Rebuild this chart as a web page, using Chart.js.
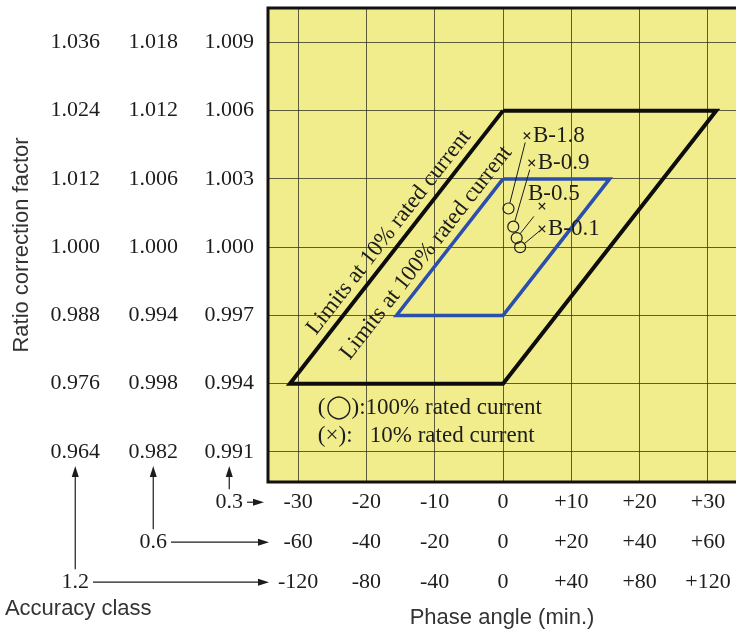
<!DOCTYPE html>
<html>
<head>
<meta charset="utf-8">
<script src="https://cdn.jsdelivr.net/npm/chart.js@4"></script>
<style>
  html, body { margin: 0; padding: 0; background: #fff; overflow: hidden; }
  #myChart { display: block; }
</style>
</head>
<body>
<canvas id="myChart" width="736" height="632"></canvas>
<script>
// phase angle gridlines, in minutes for class 0.3 (other classes are the same lines relabelled)
const phaseTicks = [-30, -20, -10, 0, 10, 20, 30];
const phaseLabels03 = ['-30', '-20', '-10', '0', '+10', '+20', '+30'];
const phaseLabels06 = ['-60', '-40', '-20', '0', '+20', '+40', '+60'];
const phaseLabels12 = ['-120', '-80', '-40', '0', '+40', '+80', '+120'];

// ratio correction factor gridlines, class 0.3 values
const rcfTicks = [0.991, 0.994, 0.997, 1.000, 1.003, 1.006, 1.009];
const rcfLabels03 = ['0.991', '0.994', '0.997', '1.000', '1.003', '1.006', '1.009'];
const rcfLabels06 = ['0.982', '0.998', '0.994', '1.000', '1.006', '1.012', '1.018'];
const rcfLabels12 = ['0.964', '0.976', '0.988', '1.000', '1.012', '1.024', '1.036'];

const accuracyClasses = ['0.3', '0.6', '1.2'];

// limit parallelograms (class 0.3)
const limit10Phase = [0, 31.2, 0, -31.2, 0];
const limit10Rcf = [1.006, 1.006, 0.994, 0.994, 1.006];
const limit100Phase = [0, 15.6, 0, -15.6, 0];
const limit100Rcf = [1.003, 1.003, 0.997, 0.997, 1.003];

// measured points per burden
const burdens = ['B-1.8', 'B-0.9', 'B-0.5', 'B-0.1'];
const phaseAt100 = [0.8, 1.5, 2.0, 2.5];
const rcfAt100 = [1.0017, 1.0009, 1.0004, 1.0000];
const phaseAt10 = [3.5, 4.2, 5.7, 5.7];
const rcfAt10 = [1.0049, 1.0037, 1.0018, 1.0008];

const serif = "'Liberation Serif', 'Times New Roman', serif";
const sans = "'Liberation Sans', Arial, sans-serif";
const ink = '#1c1c1c';

const pts = (xs, ys) => xs.map((x, i) => ({ x: x, y: ys[i] }));

function arrow(ctx, x1, y1, x2, y2) {
  const a = Math.atan2(y2 - y1, x2 - x1);
  ctx.beginPath();
  ctx.moveTo(x1, y1);
  ctx.lineTo(x2 - 6 * Math.cos(a), y2 - 6 * Math.sin(a));
  ctx.stroke();
  ctx.beginPath();
  ctx.moveTo(x2, y2);
  ctx.lineTo(x2 - 11 * Math.cos(a) + 3.5 * Math.sin(a), y2 - 11 * Math.sin(a) - 3.5 * Math.cos(a));
  ctx.lineTo(x2 - 11 * Math.cos(a) - 3.5 * Math.sin(a), y2 - 11 * Math.sin(a) + 3.5 * Math.cos(a));
  ctx.closePath();
  ctx.fill();
}

function edgeLabel(chart, text, p0, p1, normalOff, alongOff) {
  const ctx = chart.ctx, xs = chart.scales.x, ys = chart.scales.y;
  const x0 = xs.getPixelForValue(p0[0]), y0 = ys.getPixelForValue(p0[1]);
  const x1 = xs.getPixelForValue(p1[0]), y1 = ys.getPixelForValue(p1[1]);
  ctx.save();
  ctx.translate((x0 + x1) / 2, (y0 + y1) / 2);
  ctx.rotate(Math.atan2(y1 - y0, x1 - x0));
  ctx.font = '23px ' + serif;
  ctx.fillStyle = ink;
  ctx.textAlign = 'center';
  ctx.textBaseline = 'middle';
  ctx.fillText(text, alongOff, -normalOff);
  ctx.restore();
}

const decor = {
  id: 'decor',
  beforeDraw(chart) {
    const { ctx, chartArea: a } = chart;
    ctx.save();
    ctx.fillStyle = '#f2ed8c';
    ctx.fillRect(a.left, a.top, a.right - a.left, a.bottom - a.top);
    ctx.restore();
  },
  afterDatasetsDraw(chart) {
    const ctx = chart.ctx, xs = chart.scales.x, ys = chart.scales.y;
    ctx.save();
    // leader lines and burden labels
    const gap = { 'B-1.8': 7, 'B-0.9': 7, 'B-0.5': 13, 'B-0.1': 4 };
    const off = { 'B-1.8': [6, 0], 'B-0.9': [6, 0], 'B-0.5': [-14, -12], 'B-0.1': [6, 0] };
    ctx.strokeStyle = ink;
    ctx.lineWidth = 1;
    ctx.fillStyle = ink;
    ctx.font = '23px ' + serif;
    ctx.textBaseline = 'middle';
    burdens.forEach((b, i) => {
      const cx = xs.getPixelForValue(phaseAt10[i]), cy = ys.getPixelForValue(rcfAt10[i]);
      const ox = xs.getPixelForValue(phaseAt100[i]), oy = ys.getPixelForValue(rcfAt100[i]);
      const len = Math.hypot(ox - cx, oy - cy);
      const ux = (ox - cx) / len, uy = (oy - cy) / len;
      ctx.beginPath();
      ctx.moveTo(cx + ux * gap[b], cy + uy * gap[b]);
      ctx.lineTo(ox - ux * 5.5, oy - uy * 5.5);
      ctx.stroke();
      ctx.fillText(b, cx + off[b][0], cy + off[b][1]);
    });
    ctx.restore();

    edgeLabel(chart, 'Limits at 10% rated current',
      [limit10Phase[3], limit10Rcf[3]], [limit10Phase[0], limit10Rcf[0]], 15, 7);
    edgeLabel(chart, 'Limits at 100% rated current',
      [limit100Phase[3], limit100Rcf[3]], [limit100Phase[0], limit100Rcf[0]], 15, -19);

    // key inside the plot
    ctx.save();
    ctx.font = '23px ' + serif;
    ctx.fillStyle = ink;
    ctx.textBaseline = 'middle';
    const kx = xs.getPixelForValue(-27.1);
    ctx.fillText('(\u25EF):100% rated current', kx, ys.getPixelForValue(0.99294));
    ctx.fillText('(\u00D7):   10% rated current', kx, ys.getPixelForValue(0.99171));
    ctx.restore();
  },
  afterDraw(chart) {
    const { ctx, chartArea: a } = chart;
    ctx.save();
    // frame: the plot runs on past the right edge of the picture
    ctx.strokeStyle = '#111';
    ctx.lineWidth = 3;
    ctx.beginPath();
    ctx.moveTo(a.right + 5, a.top);
    ctx.lineTo(a.left, a.top);
    ctx.lineTo(a.left, a.bottom);
    ctx.lineTo(a.right + 5, a.bottom);
    ctx.stroke();

    // accuracy class pointers
    const yIds = ['y', 'y06', 'y12'], xIds = ['x', 'x06', 'x12'];
    const yLab = [rcfLabels03, rcfLabels06, rcfLabels12];
    ctx.font = '22px ' + serif;
    ctx.fillStyle = ink;
    ctx.strokeStyle = ink;
    ctx.lineWidth = 1.2;
    ctx.textAlign = 'center';
    ctx.textBaseline = 'middle';
    accuracyClasses.forEach((c, i) => {
      const ysc = chart.scales[yIds[i]], xsc = chart.scales[xIds[i]];
      const widest = Math.max(...yLab[i].map(t => ctx.measureText(t).width));
      const cx = ysc.right - ysc.options.ticks.padding - widest / 2;
      const cy = xsc.top + xsc.options.ticks.padding + 13.2;
      ctx.fillText(c, cx, cy);
      const w = ctx.measureText(c).width;
      arrow(ctx, cx, cy - 13, cx, a.bottom - 16);
      arrow(ctx, cx + w / 2 + 4, cy, a.left - (i === 0 ? 4 : -1), cy);
    });
    const c12 = chart.scales.y12;
    const w12 = Math.max(...rcfLabels12.map(t => ctx.measureText(t).width));
    ctx.font = '22px ' + sans;
    ctx.fillStyle = '#333';
    ctx.fillText('Accuracy class', c12.right - c12.options.ticks.padding - w12 / 2 + 3,
      chart.scales.x12.top + chart.scales.x12.options.ticks.padding + 13.2 + 27);
    ctx.restore();
  }
};

const tickFont = { family: serif, size: 22 };
const phaseMin = -34.4, phaseMax = 34.1;
const rcfMin = 0.98968, rcfMax = 1.01051;

function xAxis(labels, weight, height, extra) {
  return Object.assign({
    type: 'linear', position: 'bottom', weight: weight,
    min: phaseMin, max: phaseMax,
    afterBuildTicks: s => { s.ticks = phaseTicks.map(v => ({ value: v })); },
    afterFit: s => { s.height = height; s.paddingLeft = 0; s.paddingRight = 0; },
    ticks: { callback: (v, i) => labels[i], font: tickFont, color: ink, padding: 7, maxRotation: 0, autoSkip: false },
    grid: { display: false, drawTicks: false },
    border: { display: false }
  }, extra || {});
}

function yAxis(labels, weight, width, extra) {
  return Object.assign({
    type: 'linear', position: 'left', weight: weight,
    min: rcfMin, max: rcfMax,
    afterBuildTicks: s => { s.ticks = rcfTicks.map(v => ({ value: v })); },
    afterFit: s => { s.width = width; s.paddingTop = 0; s.paddingBottom = 0; },
    ticks: { callback: (v, i) => labels[i], font: tickFont, color: ink, padding: 14, crossAlign: 'center', autoSkip: false },
    grid: { display: false, drawTicks: false },
    border: { display: false }
  }, extra || {});
}

const gridStyle = { color: 'rgba(55,55,35,0.8)', lineWidth: 1, drawTicks: false };

const ctx = document.getElementById('myChart').getContext('2d');
const myChart = new Chart(ctx, {
  type: 'scatter',
  data: {
    datasets: [
      {
        label: '100% rated current',
        data: pts(phaseAt100, rcfAt100),
        pointStyle: 'circle', pointRadius: 5.5, borderColor: ink, borderWidth: 1.2,
        backgroundColor: 'rgba(0,0,0,0)'
      },
      {
        label: '10% rated current',
        data: pts(phaseAt10, rcfAt10),
        pointStyle: 'crossRot', pointRadius: 4.5, borderColor: ink, borderWidth: 1.2
      },
      {
        label: 'Limits at 100% rated current',
        data: pts(limit100Phase, limit100Rcf),
        showLine: true, pointRadius: 0, borderColor: '#2c4fae', borderWidth: 3.5, tension: 0
      },
      {
        label: 'Limits at 10% rated current',
        data: pts(limit10Phase, limit10Rcf),
        showLine: true, pointRadius: 0, borderColor: '#0d0d0d', borderWidth: 4, tension: 0
      }
    ]
  },
  options: {
    responsive: false,
    animation: false,
    layout: { autoPadding: false, padding: { top: 8, left: 0, right: 0, bottom: 0 } },
    plugins: { legend: { display: false }, tooltip: { enabled: false } },
    scales: {
      x: xAxis(phaseLabels03, 0, 40, { grid: gridStyle }),
      x06: xAxis(phaseLabels06, 1, 40),
      x12: xAxis(phaseLabels12, 2, 70, {
        title: { display: true, text: 'Phase angle (min.)', font: { family: sans, size: 22 }, color: '#333', padding: { top: 0, bottom: 1 } }
      }),
      y: yAxis(rcfLabels03, 0, 76, { grid: gridStyle }),
      y06: yAxis(rcfLabels06, 1, 78),
      y12: yAxis(rcfLabels12, 2, 114, {
        title: { display: true, text: 'Ratio correction factor', font: { family: sans, size: 22 }, color: '#333', padding: { top: 9, bottom: 0 } }
      })
    }
  },
  plugins: [decor]
});
</script>
</body>
</html>
